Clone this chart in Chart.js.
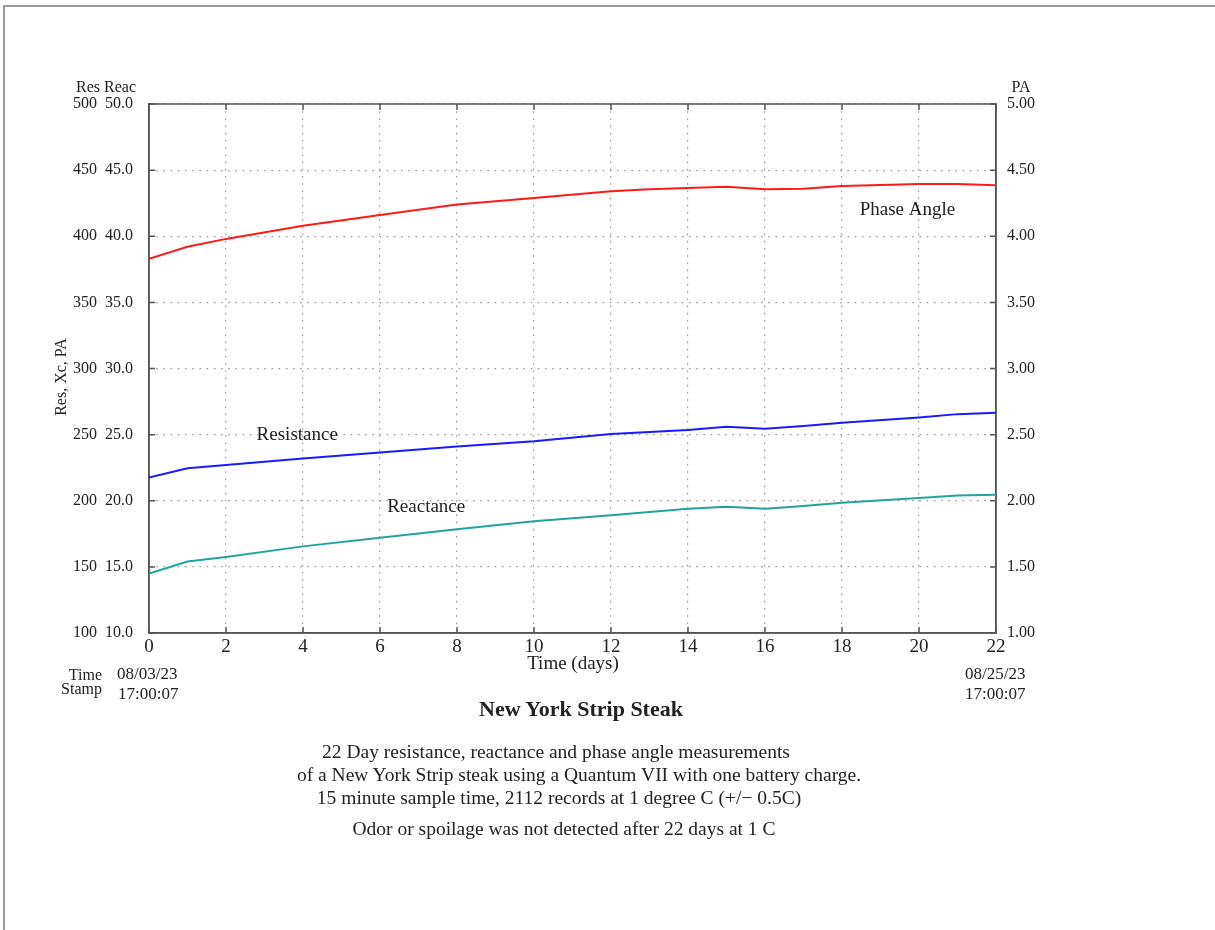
<!DOCTYPE html>
<html lang="en">
<head>
  <meta charset="UTF-8">
  <title>New York Strip Steak</title>
  <script src="https://cdn.jsdelivr.net/npm/chart.js"></script>
  <style>
    body {
      margin: 0;
      background: #fff;
      font-family: "Liberation Serif", "DejaVu Serif", serif;
      color: #222;
    }
    #wrap {
      position: relative;
      width: 1215px;
      height: 930px;
      overflow: hidden;
    }
    #edge {
      position: absolute;
      left: 3px;
      top: 5px;
      right: -10px;
      bottom: -10px;
      border-left: 2px solid #999;
      border-top: 2px solid #999;
    }
    canvas {
      position: absolute;
      left: 0;
      top: 0;
    }
    .txt {
      position: absolute;
      white-space: nowrap;
      transform: translateX(-50%);
      line-height: 22px;
      font-size: 19.5px;
    }
    .title {
      font-weight: bold;
      font-size: 22px;
    }
  </style>
</head>
<body>
  <div id="wrap">
    <div id="edge"></div>
    <canvas id="steakChart" width="1215" height="930"></canvas>
    <div class="txt title" style="left:581px; top:698px;">New York Strip Steak</div>
    <div class="txt" style="left:556px; top:741px;">22 Day resistance, reactance and phase angle measurements</div>
    <div class="txt" style="left:579px; top:764px;">of a New York Strip steak using a Quantum VII with one battery charge.</div>
    <div class="txt" style="left:559px; top:787px;">15 minute sample time, 2112 records at 1 degree C (+/&minus; 0.5C)</div>
    <div class="txt" style="left:564px; top:818px;">Odor or spoilage was not detected after 22 days at 1 C</div>
  </div>

  <script>
    // readings taken off the original plot
    const days = [0, 1, 2, 4, 6, 8, 10, 12, 13, 14, 15, 16, 17, 18, 20, 21, 22];
    const resistance = [217.5, 224.5, 227, 232, 236.5, 241, 245, 250.5, 252, 253.5, 256, 254.5, 256.5, 259, 263, 265.5, 266.5];
    const reactance = [14.5, 15.4, 15.75, 16.55, 17.2, 17.85, 18.45, 18.9, 19.15, 19.4, 19.55, 19.4, 19.6, 19.85, 20.2, 20.4, 20.45];
    const phaseAngle = [3.83, 3.92, 3.98, 4.08, 4.16, 4.24, 4.29, 4.34, 4.355, 4.365, 4.375, 4.355, 4.36, 4.38, 4.395, 4.395, 4.385];

    const serif = "'Liberation Serif', 'DejaVu Serif', serif";
    const pts = vals => days.map((d, i) => ({ x: d, y: vals[i] }));
    const dotted = { display: true, color: '#555', width: 1.5, dash: [1.6, 5.6] };

    // frame, inward tick marks and the loose labels
    const decor = {
      id: 'decor',
      beforeDatasetsDraw(chart) {
        const { ctx, chartArea: a, scales } = chart;
        ctx.save();
        ctx.strokeStyle = '#555';
        ctx.lineWidth = 1.5;
        ctx.beginPath();
        scales.x.ticks.forEach(t => {
          const px = scales.x.getPixelForValue(t.value);
          ctx.moveTo(px, a.bottom); ctx.lineTo(px, a.bottom - 6);
          ctx.moveTo(px, a.top); ctx.lineTo(px, a.top + 6);
        });
        scales.yRes.ticks.forEach(t => {
          const py = scales.yRes.getPixelForValue(t.value);
          ctx.moveTo(a.left, py); ctx.lineTo(a.left + 6, py);
          ctx.moveTo(a.right, py); ctx.lineTo(a.right - 6, py);
        });
        ctx.stroke();
        ctx.strokeRect(a.left, a.top, a.right - a.left, a.bottom - a.top);
        ctx.restore();
      },
      afterDraw(chart) {
        const { ctx, scales } = chart;
        const put = (s, x, y, size, align) => {
          ctx.font = size + 'px ' + serif;
          ctx.textAlign = align || 'center';
          ctx.fillText(s, x, y);
        };
        ctx.save();
        ctx.fillStyle = '#222';
        ctx.textBaseline = 'middle';
        put('Res', 88, 88, 16);
        put('Reac', 120, 88, 16);
        put('PA', 1021, 88, 16);
        put('Time (days)', 573, 664, 19);
        put('Time', 102, 676, 16, 'right');
        put('Stamp', 102, 690, 16, 'right');
        put('08/03/23', 117, 675, 17, 'left');
        put('17:00:07', 118, 695, 17, 'left');
        put('08/25/23', 965, 675, 17, 'left');
        put('17:00:07', 965, 695, 17, 'left');
        // labels next to the curves, placed in data units
        put('Phase Angle', scales.x.getPixelForValue(19.7), scales.yPA.getPixelForValue(4.2), 19);
        put('Resistance', scales.x.getPixelForValue(3.85), scales.yRes.getPixelForValue(249.5), 19);
        put('Reactance', scales.x.getPixelForValue(7.2), scales.yReac.getPixelForValue(19.5), 19);
        ctx.translate(62, 377);
        ctx.rotate(-Math.PI / 2);
        put('Res, Xc, PA', 0, 0, 16);
        ctx.restore();
      }
    };

    new Chart(document.getElementById('steakChart'), {
      type: 'line',
      data: {
        datasets: [
          { label: 'Phase Angle', data: pts(phaseAngle), yAxisID: 'yPA', borderColor: '#ff1a1a', borderWidth: 2 },
          { label: 'Resistance', data: pts(resistance), yAxisID: 'yRes', borderColor: '#1a1aff', borderWidth: 2 },
          { label: 'Reactance', data: pts(reactance), yAxisID: 'yReac', borderColor: '#22a39f', borderWidth: 2 }
        ]
      },
      options: {
        responsive: false,
        animation: false,
        events: [],
        layout: { padding: { left: 60, right: 159, top: 104, bottom: 267 } },
        elements: { point: { radius: 0 }, line: { tension: 0 } },
        plugins: { legend: { display: false }, tooltip: { enabled: false } },
        scales: {
          x: {
            type: 'linear',
            min: 0,
            max: 22,
            ticks: { stepSize: 2, padding: 3, color: '#222', font: { family: serif, size: 19 } },
            grid: { color: '#9a9a9a', lineWidth: 1.2, drawTicks: false },
            border: dotted,
            afterFit: s => { s.height = 30; }
          },
          yRes: {
            position: 'left',
            weight: 1,
            min: 100,
            max: 500,
            ticks: { stepSize: 50, padding: 8, color: '#222', font: { family: serif, size: 16 } },
            grid: { color: '#9a9a9a', lineWidth: 1.2, drawTicks: false },
            border: { display: false, dash: [1.6, 5.6] },
            afterFit: s => { s.width = 45; }
          },
          yReac: {
            position: 'left',
            weight: 0,
            min: 10,
            max: 50,
            ticks: { stepSize: 5, padding: 16, color: '#222', font: { family: serif, size: 16 },
                     callback: v => v.toFixed(1) },
            grid: { drawOnChartArea: false, drawTicks: false },
            border: { display: true, color: '#555', width: 1.5 },
            afterFit: s => { s.width = 44; }
          },
          yPA: {
            position: 'right',
            min: 1,
            max: 5,
            ticks: { stepSize: 0.5, padding: 11, color: '#222', font: { family: serif, size: 16 },
                     callback: v => v.toFixed(2) },
            grid: { drawOnChartArea: false, drawTicks: false },
            border: { display: true, color: '#555', width: 1.5 },
            afterFit: s => { s.width = 60; }
          }
        }
      },
      plugins: [decor]
    });
  </script>
</body>
</html>
